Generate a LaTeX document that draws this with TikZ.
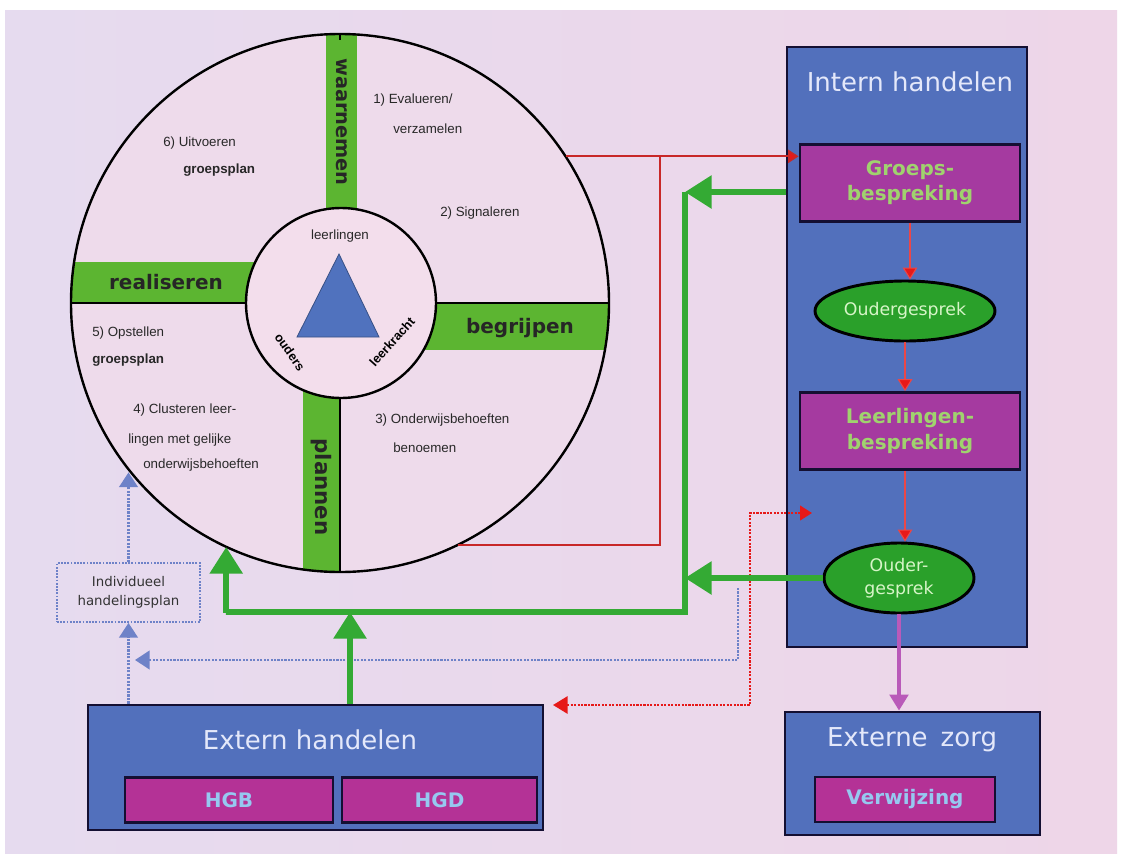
\documentclass[tikz,border=0pt]{standalone}
\usepackage{fontspec}
\setmainfont{Liberation Sans}
\newfontfamily\comic{DejaVu Sans}
\usetikzlibrary{arrows.meta,shapes.geometric}
\definecolor{bgpink}{RGB}{238,214,232}
\definecolor{bglav}{RGB}{230,219,239}
\definecolor{wheelfill}{RGB}{238,219,235}
\definecolor{hubfill}{RGB}{243,222,236}
\definecolor{boxblue}{RGB}{82,112,188}
\definecolor{boxmag}{RGB}{165,58,160}
\definecolor{hgmag}{RGB}{180,50,150}
\definecolor{ellgreen}{RGB}{42,160,42}
\definecolor{bargreen}{RGB}{92,181,49}
\definecolor{arrgreen}{RGB}{52,170,52}
\definecolor{titlewhite}{RGB}{228,232,250}
\definecolor{lgreen}{RGB}{160,210,110}
\definecolor{pgreen}{RGB}{215,245,200}
\definecolor{lblue}{RGB}{150,200,240}
\definecolor{redline}{RGB}{200,40,40}
\definecolor{redhead}{RGB}{230,25,25}
\definecolor{dotblue}{RGB}{110,130,200}
\definecolor{purp}{RGB}{185,90,185}
\definecolor{trifill}{RGB}{80,114,190}
\definecolor{txtgray}{RGB}{40,40,40}
\definecolor{edge}{RGB}{20,15,50}
\tikzset{
  bluebox/.style={draw=edge, line width=2.2pt, fill=boxblue, inner sep=0pt},
  magbox/.style={draw=edge, line width=2pt, fill=boxmag, inner sep=0pt, text=lgreen,
    font=\comic\bfseries\fontsize{15}{19}\selectfont, align=center},
  hgbox/.style={draw=edge, line width=2pt, fill=hgmag, inner sep=0pt, text=lblue,
    font=\comic\bfseries\fontsize{15}{17}\selectfont},
  greenell/.style={ellipse, draw=black, line width=2.2pt, fill=ellgreen, inner sep=0pt,
    text=pgreen, font=\comic\fontsize{13}{17}\selectfont, align=center},
  boxtitle/.style={text=titlewhite, font=\comic\fontsize{19.5}{22}\selectfont},
  qtext/.style={text=txtgray, font=\fontsize{10}{12}\selectfont, anchor=west, inner sep=0pt},
  qbold/.style={text=txtgray, font=\bfseries\fontsize{10}{12}\selectfont, anchor=west, inner sep=0pt},
  barlabel/.style={font=\comic\bfseries\fontsize{15}{18}\selectfont, text=black!85},
  hublabel/.style={font=\bfseries\fontsize{9.5}{11}\selectfont, text=black, inner sep=0pt},
  gline/.style={draw=arrgreen, line width=4.5pt},
  garrow/.style={gline, -{Triangle[width=24pt,length=20pt]}},
  redl/.style={draw=redline, line width=1.3pt},
  redarr/.style={redl, -{Triangle[width=10pt,length=8pt,fill=redhead]}},
  redthin/.style={draw=redhead!80, line width=0.8pt, -{Triangle[width=11pt,length=9pt,fill=redhead]}},
  reddot/.style={draw=redhead, line width=1.6pt, densely dotted,
    {Triangle[width=13pt,length=11pt,fill=redhead,sep=0pt]}-{Triangle[width=11pt,length=9pt,fill=redhead]}},
  bluedot/.style={draw=dotblue, line width=1.6pt, densely dotted,
    -{Triangle[width=14pt,length=11pt,fill=dotblue]}},
  purparr/.style={draw=purp, line width=2.5pt, -{Triangle[width=14pt,length=12pt]}},
}
\begin{document}
\begin{tikzpicture}[x=0.75pt,y=-0.75pt]
\useasboundingbox (0,0) rectangle (1121,857);
\fill[white] (0,0) rectangle (1121,857);
\shade[left color=bglav, right color=bgpink] (5,10) rectangle (1117,853);

% wheel
\node (wheel) [circle, fill=wheelfill, minimum size=403.5pt, inner sep=0pt] at (340,303) {};
\begin{scope}
  \clip (340,303) circle[radius=201.75pt];
  \fill[bargreen] (326,20) rectangle (357,230);
  \fill[bargreen] (60,262) rectangle (270,303);
  \fill[bargreen] (410,303) rectangle (620,350);
  \fill[bargreen] (303,380) rectangle (340,590);
  \draw[black, line width=1.5pt] (340,20) -- (340,590);
  \draw[black, line width=1.5pt] (60,303) -- (620,303);
\end{scope}
\fill[bargreen] (326,40) rectangle (357,210);
\draw[black, line width=1.8pt] (340,303) circle[radius=201.75pt];
\node (hub) [circle, draw=black, line width=1.8pt, fill=hubfill, minimum size=142.5pt, inner sep=0pt] at (341,303) {};
\fill[trifill, draw=trifill!70!black, line width=0.6pt] (339,254) -- (379,337) -- (297,337) -- cycle;

\node (lleer) [text=txtgray, font=\fontsize{10}{12}\selectfont] at (340,236) {leerlingen};
\node (louders) [hublabel, rotate=-55] at (290,352) {ouders};
\node (lkracht) [hublabel, rotate=48] at (392,342) {leerkracht};

\node (bwaar) [barlabel, rotate=-90, font=\comic\bfseries\fontsize{14.5}{16}\selectfont] at (342,122) {waarnemen};
\node (breal) [barlabel] at (166,282) {realiseren};
\node (bbegr) [barlabel] at (520,328) {begrijpen};
\node (bplan) [barlabel, rotate=-90, font=\comic\bfseries\fontsize{16}{18}\selectfont] at (321,487) {plannen};

\node (q1a) [qtext] at (373,100) {1) Evalueren/};
\node (q1b) [qtext] at (393,129) {verzamelen};
\node (q2) [qtext] at (440,213) {2) Signaleren};
\node (q6a) [qtext] at (163,143) {6) Uitvoeren};
\node (q6b) [qbold] at (183,170) {groepsplan};
\node (q5a) [qtext] at (92,333) {5) Opstellen};
\node (q5b) [qbold] at (92,360) {groepsplan};
\node (q4a) [qtext] at (133,410) {4) Clusteren leer-};
\node (q4b) [qtext] at (128,440) {lingen met gelijke};
\node (q4c) [qtext] at (143,465) {onderwijsbehoeften};
\node (q3a) [qtext] at (375,420) {3) Onderwijsbehoeften};
\node (q3b) [qtext] at (393,448) {benoemen};

% intern handelen
\node (intern) [bluebox, minimum width=180pt, minimum height=450pt] at (907,347) {};
\node (tintern) [boxtitle] at (910,82) {Intern handelen};
\node (groeps) [magbox, minimum width=165pt, minimum height=57.75pt] at (910,183) {Groeps-\\bespreking};
\node (oud1) [greenell, minimum width=135pt, minimum height=45pt] at (905,311) {Oudergesprek};
\node (leerl) [magbox, minimum width=165pt, minimum height=57.75pt] at (910,431) {Leerlingen-\\bespreking};
\node (oud2) [greenell, minimum width=112.5pt, minimum height=52.5pt] at (899,578) {Ouder-\\gesprek};

% externe zorg
\node (extzorg) [bluebox, minimum width=191.25pt, minimum height=92.25pt] at (912.5,773.5) {};
\node (textzorg) [boxtitle] at (912,740) {Externe\enspace zorg};
\node (verw) [hgbox, minimum width=135pt, minimum height=33.75pt] at (905,799.5) {Verwijzing};

% extern handelen
\node (exthand) [bluebox, minimum width=341.25pt, minimum height=93.75pt] at (315.5,767.5) {};
\node (texthand) [boxtitle] at (310,740) {Extern handelen};
\node (hgb) [hgbox, minimum width=156pt, minimum height=33.75pt] at (229,800) {HGB};
\node (hgd) [hgbox, minimum width=146.25pt, minimum height=33.75pt] at (439.5,800) {HGD};

% individueel handelingsplan
\node (indiv) [draw=dotblue, line width=1.4pt, densely dotted, minimum width=107.25pt, minimum height=44.25pt,
  align=center, text=black!80, font=\comic\fontsize{10}{14}\selectfont] at (128.5,592.5) {Individueel\\handelingsplan};

% coordinates
\coordinate (rx) at (660,0);
\coordinate (gtop) at (685,192);
\coordinate (gbot) at (685,612);
\coordinate (gx) at (350,612);
\coordinate (btop) at (738,588);
\coordinate (bcorner) at (738,660);
\coordinate (bend) at (135,660);
\coordinate (rdtop) at (750,513);
\coordinate (rdbot) at (750,705);
\coordinate (rdend) at (812,513);
\coordinate (rdleft) at (553,705);

% red connectors
\draw[redarr] (wheel.33) -- (wheel.33 -| groeps.west);
\draw[redl] (wheel.-64) -| (wheel.33 -| rx);
\draw[redthin] (groeps.south) -- (groeps.south |- oud1.north);
\draw[redthin] (oud1.south) -- (oud1.south |- leerl.north);
\draw[redthin] (leerl.south -| oud1.south) -- (oud1.south |- oud2.north);
\draw[reddot] (rdleft) -- (rdbot) -- (rdtop) -- (rdend);

% blue dotted
\draw[bluedot] (exthand.north -| indiv.south) -- (indiv.south);
\draw[bluedot] (indiv.north) -- (indiv.north |- wheel.-141);
\draw[bluedot] (btop) -- (bcorner) -- (bend);

% green connectors
\draw[garrow] (intern.west |- gtop) -- (gtop);
\draw[garrow] (oud2.west) -- (oud2.west -| gtop);
\draw[gline, line join=miter] (gtop) -- (gbot) -- (wheel.-115 |- gbot) -- ([yshift=-0.5pt]wheel.-115 |- gbot);
\draw[garrow] (wheel.-115 |- gbot) -- (wheel.-115);
\draw[garrow] (exthand.north -| gx) -- (gx);

% purple
\draw[purparr] (oud2.south) -- (oud2.south |- extzorg.north);
\end{tikzpicture}
\end{document}
